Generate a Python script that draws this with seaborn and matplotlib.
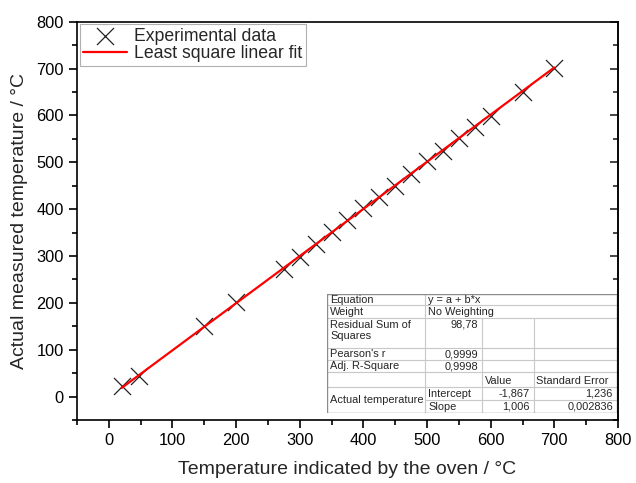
import matplotlib
matplotlib.use("Agg")
import matplotlib.pyplot as plt
from matplotlib.ticker import MultipleLocator
import seaborn as sns
import numpy as np
import pandas as pd

# Oven set point vs. measured temperature (°C)
oven_temp = [20, 48, 150, 200, 275, 300, 325, 350, 375, 400,
             425, 450, 475, 500, 525, 550, 575, 600, 650, 700]
measured_temp = [22, 43, 151, 202, 273, 298, 326, 351, 376, 402,
                 425, 450, 476, 502, 525, 551, 575, 599, 651, 701]

# Fit report values shown in the inset table
fit_intercept = -1.867
fit_slope = 1.006
fit_rows = [
    ("Equation", "y = a + b*x"),
    ("Weight", "No Weighting"),
    ("Residual Sum of\nSquares", "98,78"),
    ("Pearson's r", "0,9999"),
    ("Adj. R-Square", "0,9998"),
]
param_names = ["Intercept", "Slope"]
param_values = ["-1,867", "1,006"]
param_errors = ["1,236", "0,002836"]

sns.set_style("ticks")
plt.rcParams['font.family'] = ['Liberation Sans', 'DejaVu Sans']

df = pd.DataFrame({"oven": oven_temp, "measured": measured_temp})
x_fit = np.array([min(oven_temp), max(oven_temp)])
fit_df = pd.DataFrame({"oven": x_fit, "measured": fit_intercept + fit_slope * x_fit})

fig = plt.figure(figsize=(6.36, 4.83), dpi=100)
ax = fig.add_axes([77 / 636, 1 - 420 / 483, (618 - 77) / 636, (420 - 21.7) / 483])

sns.scatterplot(data=df, x="oven", y="measured", marker="x", s=150, color="#222222",
                linewidth=0.9, label="Experimental data", ax=ax, zorder=2)
sns.lineplot(data=fit_df, x="oven", y="measured", color="red", linewidth=1.6,
             label="Least square linear fit", ax=ax, zorder=3)

ax.set_xlim(-50, 800)
ax.set_ylim(-50, 800)
ax.xaxis.set_major_locator(MultipleLocator(100))
ax.xaxis.set_minor_locator(MultipleLocator(50))
ax.yaxis.set_major_locator(MultipleLocator(100))
ax.yaxis.set_minor_locator(MultipleLocator(50))
ax.tick_params(which="both", direction="out", width=1.2, color="black",
               labelsize=11.8, labelcolor="black", right=False, top=False)
ax.tick_params(which="major", length=6)
ax.tick_params(which="minor", length=3.5)
for side in ["left", "bottom", "right", "top"]:
    ax.spines[side].set_visible(True)
    ax.spines[side].set_linewidth(1.2)
    ax.spines[side].set_color("black")

# right axis: inward ticks, no labels
rax = ax.secondary_yaxis("right")
rax.yaxis.set_major_locator(MultipleLocator(100))
rax.yaxis.set_minor_locator(MultipleLocator(50))
rax.tick_params(which="both", direction="in", width=1.2, labelright=False)
rax.tick_params(which="major", length=6)
rax.tick_params(which="minor", length=3.5)
rax.spines["right"].set_linewidth(1.2)

ax.set_xlabel("Temperature indicated by the oven / °C", fontsize=14, labelpad=9)
ax.set_ylabel("Actual measured temperature / °C", fontsize=14, labelpad=6)

leg = ax.legend(loc="upper left", fontsize=12.7, frameon=True, fancybox=False,
                framealpha=1, edgecolor="#b0b0b0", borderaxespad=0.15,
                handlelength=2.5, handletextpad=0.4, borderpad=0.2,
                labelspacing=0.02)
leg.get_frame().set_linewidth(0.8)

# Inset fit report table, laid out in pixel units
tx = fig.add_axes([327 / 636, 1 - 413 / 483, (617 - 327) / 636, (413 - 294) / 483])
tx.set_xlim(327, 617)
tx.set_ylim(413, 294)
tx.axis("off")
tx.add_patch(plt.Rectangle((327, 294), 290, 119, facecolor="white", edgecolor="none", zorder=0))

cols = [327, 425, 482, 533.5, 617]
rows = [294, 305, 318, 348, 360, 372, 387, 400, 413]
grid_c = "#c8c8c8"
fs = 7.9

for y in rows[1:-1]:
    x0 = cols[1] if y == rows[7] else cols[0]
    tx.plot([x0, cols[-1]], [y, y], color=grid_c, lw=0.8)
tx.plot([cols[1], cols[1]], [rows[0], rows[-1]], color=grid_c, lw=0.8)
for c in cols[2:4]:
    tx.plot([c, c], [rows[2], rows[-1]], color=grid_c, lw=0.8)
tx.plot([cols[0], cols[-1], cols[-1], cols[0], cols[0]],
        [rows[0], rows[0], rows[-1], rows[-1], rows[0]], color="#8a8a8a", lw=1.0)

for i, (name, val) in enumerate(fit_rows):
    top, bot = rows[i], rows[i + 1]
    if i == 2:
        tx.text(cols[0] + 3, top + 1.5, name, fontsize=fs, va="top", ha="left", linespacing=1.2)
        tx.text(cols[2] - 4, top + 1.5, val, fontsize=fs, va="top", ha="right")
    elif i < 2:
        tx.text(cols[0] + 3, (top + bot) / 2, name, fontsize=fs, va="center", ha="left")
        tx.text(cols[1] + 3, (top + bot) / 2, val, fontsize=fs, va="center", ha="left")
    else:
        tx.text(cols[0] + 3, (top + bot) / 2, name, fontsize=fs, va="center", ha="left")
        tx.text(cols[2] - 4, top + 1.5, val, fontsize=fs, va="top", ha="right")

tx.text(cols[2] + 3, (rows[5] + rows[6]) / 2 + 1, "Value", fontsize=fs, va="center", ha="left")
tx.text(cols[3] + 3, (rows[5] + rows[6]) / 2 + 1, "Standard Error", fontsize=fs, va="center", ha="left")
tx.text(cols[0] + 3, (rows[6] + rows[8]) / 2, "Actual temperature", fontsize=fs, va="center", ha="left")
for j in range(2):
    yc = (rows[6 + j] + rows[7 + j]) / 2
    tx.text(cols[1] + 3, yc, param_names[j], fontsize=fs, va="center", ha="left")
    tx.text(cols[3] - 4, yc, param_values[j], fontsize=fs, va="center", ha="right")
    tx.text(cols[4] - 4, yc, param_errors[j], fontsize=fs, va="center", ha="right")

fig.savefig("out.png", dpi=100)
